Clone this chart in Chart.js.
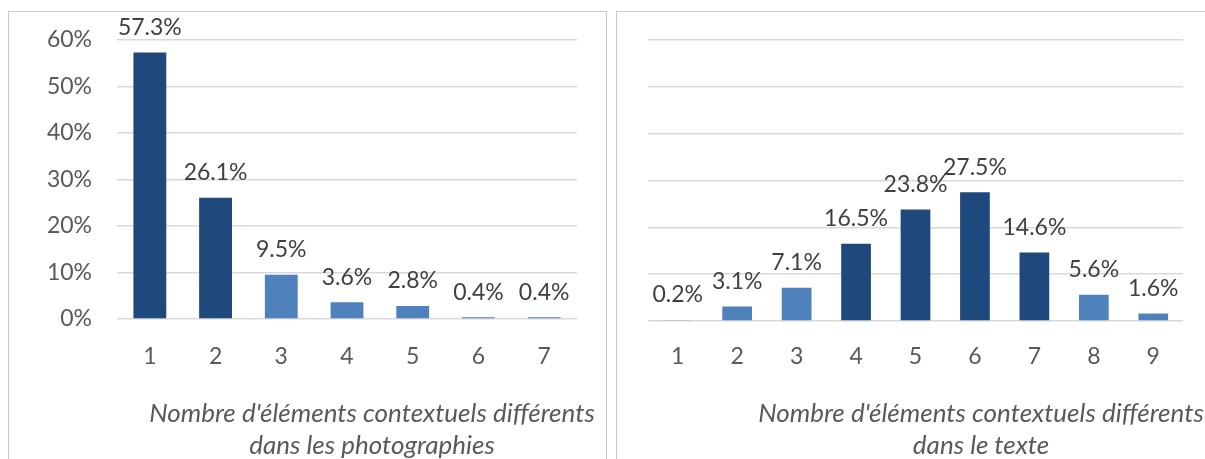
<!DOCTYPE html>
<html>
<head>
<meta charset="utf-8">
<script src="https://cdn.jsdelivr.net/npm/chart.js@4.4.1/dist/chart.umd.min.js"></script>
<style>
  html, body { margin:0; padding:0; width:1205px; height:459px; overflow:hidden; background:#fff; }
  .panel { position:absolute; border:1.5px solid #c8c8c8; border-bottom:none; box-sizing:border-box; }
  .cv { position:absolute; }
  .title { position:absolute; width:700px; text-align:center; font-family:Lato, sans-serif; font-style:italic;
           font-size:26px; line-height:32px; color:#595959; white-space:nowrap; }
</style>
</head>
<body>
<div class="panel" style="left:8px; top:11px; width:599px; height:460px;"></div>
<div class="panel" style="left:616px; top:11px; width:600px; height:460px;"></div>
<div class="cv" style="left:9px; top:11px; width:597px; height:448px;"><canvas id="c1"></canvas></div>
<div class="cv" style="left:617px; top:11px; width:588px; height:448px;"><canvas id="c2"></canvas></div>
<div class="title" style="left:22px; top:396px;">Nombre d'éléments contextuels différents<br>dans les photographies</div>
<div class="title" style="left:631px; top:396px;">Nombre d'éléments contextuels différents<br>dans le texte</div>
<script>
const photoCategories = ["1","2","3","4","5","6","7"];
const photoValues = [57.3, 26.1, 9.5, 3.6, 2.8, 0.4, 0.4];
const photoDark = [true, true, false, false, false, false, false];

const texteCategories = ["1","2","3","4","5","6","7","8","9"];
const texteValues = [0.2, 3.1, 7.1, 16.5, 23.8, 27.5, 14.6, 5.6, 1.6];
const texteDark = [false, false, false, true, true, true, true, false, false];

const yTicks = [0, 10, 20, 30, 40, 50, 60];
const yTickLabels = ["0%", "10%", "20%", "30%", "40%", "50%", "60%"];

const DARK = "#1F497D", LIGHT = "#4F81BD";

const labelPlugin = {
  id: "barLabels",
  afterDatasetsDraw(chart) {
    const ctx = chart.ctx;
    const meta = chart.getDatasetMeta(0);
    const data = chart.data.datasets[0].data;
    ctx.save();
    ctx.font = "23px Lato, sans-serif";
    ctx.fillStyle = "#404040";
    ctx.textAlign = "center";
    ctx.textBaseline = "middle";
    meta.data.forEach((bar, i) => {
      ctx.fillText(data[i].toFixed(1) + "%", bar.x, bar.y - 25);
    });
    // y tick labels (only when requested)
    if (chart.options.plugins.barLabels && chart.options.plugins.barLabels.yLabels) {
      const ys = chart.scales.y;
      ctx.fillStyle = "#595959";
      ctx.textAlign = "right";
      yTicks.forEach((v, i) => {
        ctx.fillText(yTickLabels[i], chart.chartArea.left - 25, ys.getPixelForValue(v));
      });
    }
    ctx.restore();
  }
};

function makeChart(id, cats, vals, dark, opts) {
  return new Chart(document.getElementById(id), {
    type: "bar",
    data: {
      labels: cats,
      datasets: [{
        data: vals,
        backgroundColor: dark.map(d => d ? DARK : LIGHT),
        categoryPercentage: 1.0,
        barPercentage: 0.5,
        borderWidth: 0
      }]
    },
    options: {
      responsive: true,
      maintainAspectRatio: false,
      animation: false,
      events: [],
      layout: { padding: { top: 29, right: opts.padRight, left: 0, bottom: 0 } },
      plugins: { legend: { display: false }, tooltip: { enabled: false }, barLabels: { yLabels: opts.showY } },
      scales: {
        x: {
          grid: { display: false, drawTicks: false },
          border: { display: false },
          ticks: { color: "#595959", font: { family: "Lato", size: 23 }, padding: opts.xPad },
          afterFit(s) { s.height = opts.xHeight; }
        },
        y: {
          min: 0, max: 60,
          afterBuildTicks(s) { s.ticks = yTicks.map(v => ({ value: v })); },
          grid: { color: "#d9d9d9", lineWidth: 1.5, drawTicks: false },
          border: { display: false },
          ticks: { display: false },
          afterFit(s) { s.width = opts.yWidth; }
        }
      }
    },
    plugins: [labelPlugin]
  });
}

makeChart("c1", photoCategories, photoValues, photoDark,
  { padRight: 29, xPad: 24, xHeight: 140, yWidth: 108, showY: true });
makeChart("c2", texteCategories, texteValues, texteDark,
  { padRight: 22, xPad: 22, xHeight: 138, yWidth: 31, showY: false });
</script>
</body>
</html>
